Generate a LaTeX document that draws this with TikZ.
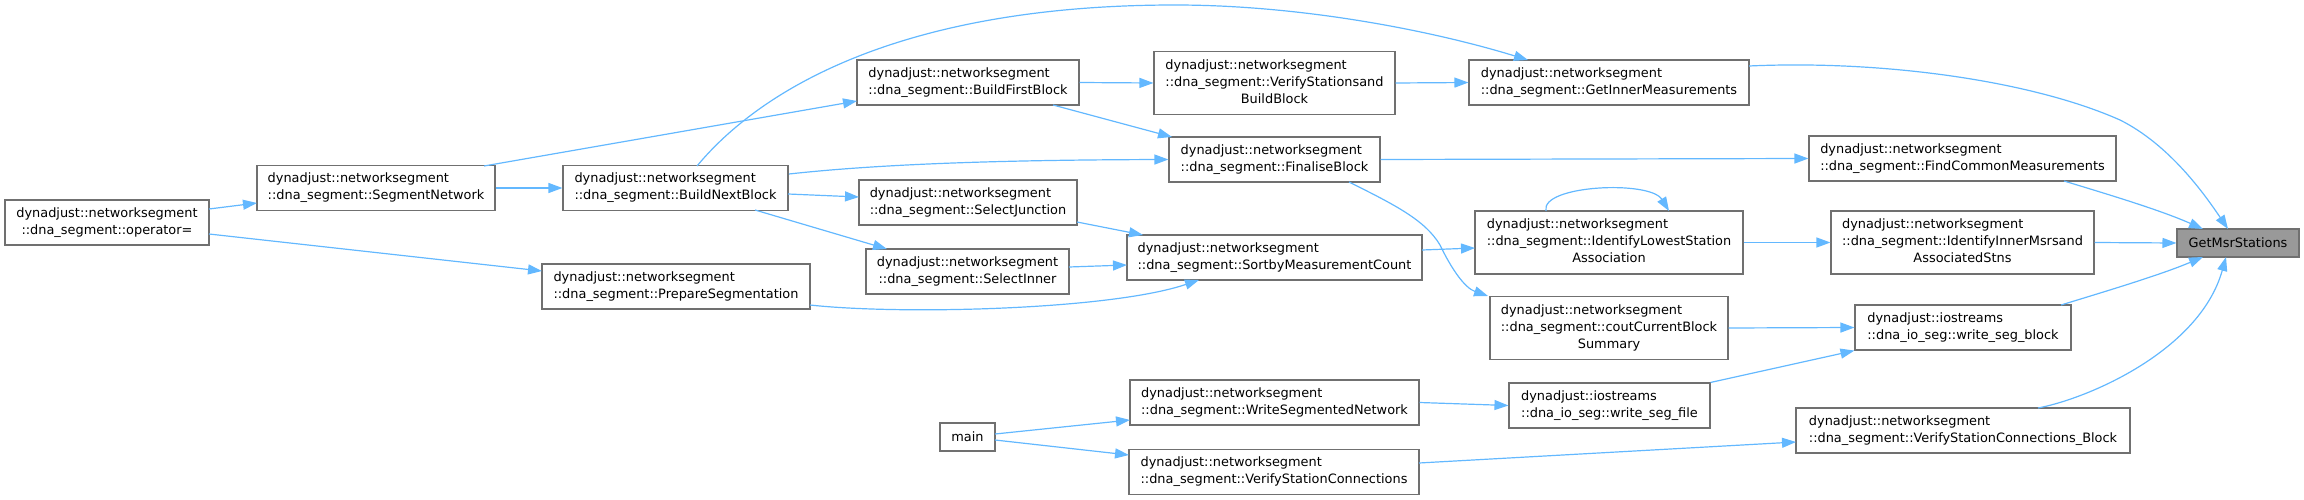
\documentclass[tikz,border=0pt]{standalone}
\usepackage{fontspec}
\setmainfont{DejaVu Sans}
\usetikzlibrary{arrows.meta,calc}
\newcommand\lbltwo[2]{\begin{tabular}{@{}l@{}}#1\\\multicolumn{1}{@{}c@{}}{#2}\end{tabular}}
\newcommand\lblthree[3]{\begin{tabular}{@{}l@{}}#1\\#2\\\multicolumn{1}{@{}c@{}}{#3}\end{tabular}}
\definecolor{edgeblue}{HTML}{63B8FF}
\definecolor{bordergray}{HTML}{707070}
\definecolor{fillgray}{HTML}{999999}
\begin{document}
\begin{tikzpicture}[x=1pt,y=-1pt,
  box/.style={draw=bordergray, line width=1.1pt, fill=white, inner sep=0pt, align=center,
    font=\fontsize{12.9}{17}\selectfont, minimum height=45pt},
  box3/.style={box, minimum height=63pt},
  box1/.style={box, minimum height=28pt},
  edge/.style={draw=edgeblue, line width=1.2pt, -{Triangle[length=14pt,width=10pt]}}]
\useasboundingbox (0,0) rectangle (2304,500);
\node[box, minimum width=204] (op) at (107,222.5) {\lbltwo{dynadjust::networksegment}{::dna\_segment::operator=}};
\node[box, minimum width=238] (segnet) at (376,188) {\lbltwo{dynadjust::networksegment}{::dna\_segment::SegmentNetwork}};
\node[box, minimum width=225] (bnb) at (675.5,188) {\lbltwo{dynadjust::networksegment}{::dna\_segment::BuildNextBlock}};
\node[box, minimum width=268] (prep) at (676,286.5) {\lbltwo{dynadjust::networksegment}{::dna\_segment::PrepareSegmentation}};
\node[box, minimum width=222] (bfb) at (968,82.5) {\lbltwo{dynadjust::networksegment}{::dna\_segment::BuildFirstBlock}};
\node[box3, minimum width=241] (vsbb) at (1274.5,83) {\lblthree{dynadjust::networksegment}{::dna\_segment::VerifyStationsand}{BuildBlock}};
\node[box, minimum width=280] (gim) at (1609,82.5) {\lbltwo{dynadjust::networksegment}{::dna\_segment::GetInnerMeasurements}};
\node[box, minimum width=211] (fin) at (1274.5,159.5) {\lbltwo{dynadjust::networksegment}{::dna\_segment::FinaliseBlock}};
\node[box, minimum width=218] (sj) at (968,202.5) {\lbltwo{dynadjust::networksegment}{::dna\_segment::SelectJunction}};
\node[box, minimum width=203] (si) at (967.5,271.5) {\lbltwo{dynadjust::networksegment}{::dna\_segment::SelectInner}};
\node[box, minimum width=295] (sort) at (1274.5,257.5) {\lbltwo{dynadjust::networksegment}{::dna\_segment::SortbyMeasurementCount}};
\node[box3, minimum width=268] (ilsa) at (1609,242.5) {\lblthree{dynadjust::networksegment}{::dna\_segment::IdentifyLowestStation}{Association}};
\node[box3, minimum width=238] (ccbs) at (1609,328) {\lblthree{dynadjust::networksegment}{::dna\_segment::coutCurrentBlock}{Summary}};
\node[box1, minimum width=55] (main) at (967.5,437) {main};
\node[box, minimum width=289] (wsn) at (1274.5,402.5) {\lbltwo{dynadjust::networksegment}{::dna\_segment::WriteSegmentedNetwork}};
\node[box, minimum width=290] (vsc) at (1274,472) {\lbltwo{dynadjust::networksegment}{::dna\_segment::VerifyStationConnections}};
\node[box, minimum width=201] (wsf) at (1609.5,405.5) {\lbltwo{dynadjust::iostreams}{::dna\_io\_seg::write\_seg\_file}};
\node[box, minimum width=307] (fcm) at (1962.5,158.5) {\lbltwo{dynadjust::networksegment}{::dna\_segment::FindCommonMeasurements}};
\node[box3, minimum width=263] (iim) at (1962.5,242.5) {\lblthree{dynadjust::networksegment}{::dna\_segment::IdentifyInnerMsrsand}{AssociatedStns}};
\node[box, minimum width=216] (wsb) at (1963,327.5) {\lbltwo{dynadjust::iostreams}{::dna\_io\_seg::write\_seg\_block}};
\node[box, minimum width=334] (vscb) at (1963,430.5) {\lbltwo{dynadjust::networksegment}{::dna\_segment::VerifyStationConnections\_Block}};
\node[box1, fill=fillgray, minimum width=122] (gms) at (2238,243) {GetMsrStations};

\draw[edge] ($(op)+(102,-13.5)$) -- ($(segnet)+(-119,15)$);
\draw[edge] ($(op)+(102,11.5)$) -- ($(prep)+(-134,-15.5)$);
\draw[edge] (segnet.east) -- (bnb.west);
\draw[edge] ($(segnet)+(108,-22)$) -- ($(bfb)+(-111,18.5)$);
\draw[edge] ($(bnb)+(21.5,-22)$) .. controls (760,90) and (900,5) .. (1175,5) .. controls (1300,5) and (1430,30) .. ($(gim)+(-81,-22.5)$);
\draw[edge] ($(bnb)+(113.5,-14)$) .. controls (880,164) and (1000,160) .. (fin.west);
\draw[edge] ($(bnb)+(112.5,6)$) -- ($(sj)+(-109,-5.5)$);
\draw[edge] ($(bnb)+(79.5,22)$) -- ($(si)+(-80.5,-22.5)$);
\draw[edge] (bfb.east) -- (vsbb.west);
\draw[edge] ($(bfb)+(85,22.5)$) -- ($(fin)+(-102.5,-22.5)$);
\draw[edge] (vsbb.east) -- (gim.west);
\draw[edge] (fin.east) -- (fcm.west);
\draw[edge] ($(fin)+(74.5,22.5)$) .. controls (1395,205) and (1425,220) .. (1440,245) .. controls (1452,270) and (1465,288) .. ($(ccbs)+(-121,-32)$);
\draw[edge] ($(sj)+(109,19.5)$) -- ($(sort)+(-131.5,-22.5)$);
\draw[edge] ($(si)+(101.5,-4.5)$) -- ($(sort)+(-147.5,7.5)$);
\draw[edge] ($(prep)+(134,18.5)$) .. controls (900,315) and (1110,310) .. ($(sort)+(-75.5,22.5)$);
\draw[edge] ($(sort)+(147.5,-7.5)$) -- ($(ilsa)+(-134,5.5)$);
\draw[edge] ($(ilsa)+(-63,-31.5)$) .. controls (1540,185) and (1650,180) .. ($(ilsa)+(60,-31.5)$);
\draw[edge] (ilsa.east) -- (iim.west);
\draw[edge] (ccbs.east) -- (wsb.west);
\draw[edge] ($(main)+(27.5,-3)$) -- ($(wsn)+(-144.5,17.5)$);
\draw[edge] ($(main)+(27.5,3)$) -- ($(vsc)+(-145,-17)$);
\draw[edge] (wsn.east) -- (wsf.west);
\draw[edge] (wsf.north east) -- (wsb.south west);
\draw[edge] ($(vsc)+(145,-9)$) -- ($(vscb)+(-167,11.5)$);
\draw[edge] ($(gim)+(140,-16.5)$) .. controls (1880,60) and (2030,80) .. (2120,120) .. controls (2170,145) and (2205,195) .. ($(gms)+(-10,-14)$);
\draw[edge] ($(fcm)+(101.5,22.5)$) .. controls (2110,195) and (2160,210) .. ($(gms)+(-35,-14)$);
\draw[edge] (iim.east) -- (gms.west);
\draw[edge] ($(wsb)+(98,-22.5)$) .. controls (2110,290) and (2160,275) .. ($(gms)+(-35,14)$);
\draw[edge] ($(vscb)+(75,-22.5)$) .. controls (2090,398) and (2200,350) .. ($(gms)+(-12,14)$);
\end{tikzpicture}
\end{document}
